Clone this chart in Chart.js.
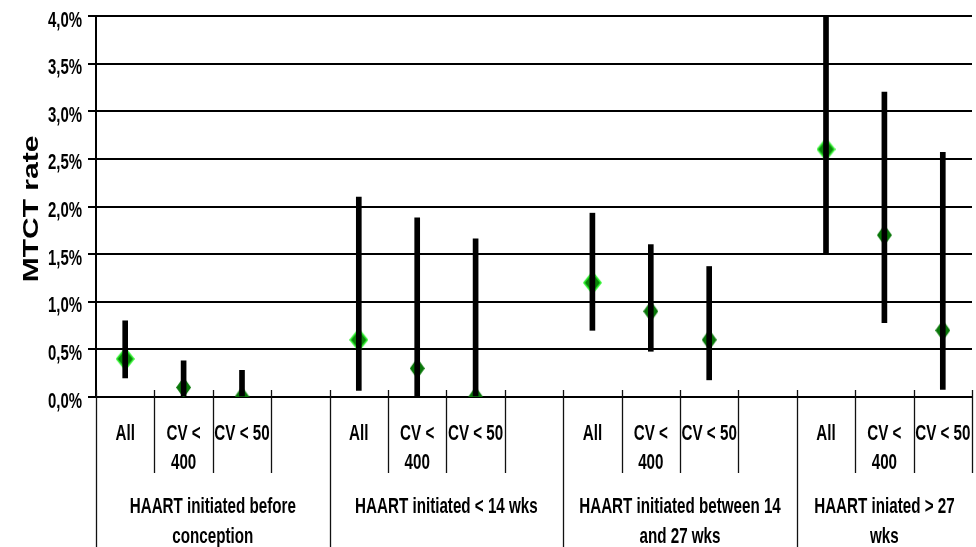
<!DOCTYPE html>
<html>
<head>
<meta charset="utf-8">
<script src="https://cdn.jsdelivr.net/npm/chart.js@4.4.1/dist/chart.umd.min.js"></script>
<style>
  html, body { margin: 0; padding: 0; background: #ffffff; }
  #c { display: block; }
</style>
</head>
<body>
<canvas id="c" width="976" height="547"></canvas>
<script>
// Treatment-start groups and their viral-load subgroups
const groupNames = [
  ['HAART initiated before', 'conception'],
  ['HAART initiated < 14 wks'],
  ['HAART initiated between 14', 'and 27 wks'],
  ['HAART iniated > 27', 'wks']
];
const subLabels = [['All'], ['CV <', '400'], ['CV < 50']];

// MTCT rate (%) with 95% CI, one slot per subgroup, null = spacer slot
const rate   = [0.4, 0.1, 0.0, null, 0.6, 0.3, 0.0, null, 1.2, 0.9, 0.6, null, 2.6, 1.7, 0.7];
const ciLow  = [0.2, 0.0, 0.0, null, 0.07, 0.0, 0.0, null, 0.7, 0.48, 0.18, null, 1.5, 0.78, 0.08];
const ciHigh = [0.8, 0.38, 0.28, null, 2.1, 1.88, 1.66, null, 1.93, 1.6, 1.37, null, 4.0, 3.2, 2.57];

// Y axis tick values (%)
const yTicks = [0, 0.5, 1.0, 1.5, 2.0, 2.5, 3.0, 3.5, 4.0];

const FONT = '"Liberation Sans", Arial, sans-serif';
const SQUEEZE = 0.69;   // condensed look for axis text

// Slot labels: three subgroups per group, blank spacer between groups
const slots = [];
const slotIsAll = [];
const groupStarts = [];
groupNames.forEach((g, gi) => {
  groupStarts.push(slots.length);
  subLabels.forEach((s, si) => { slots.push(s); slotIsAll.push(si === 0); });
  if (gi < groupNames.length - 1) { slots.push(''); slotIsAll.push(false); }
});

// Diamond markers
function diamond(w, h, fill, stroke, lw) {
  const cv = document.createElement('canvas');
  cv.width = w; cv.height = h;
  const g = cv.getContext('2d');
  const path = (inset) => {
    const k = inset * h / w;
    g.beginPath();
    g.moveTo(w / 2, k); g.lineTo(w - inset, h / 2); g.lineTo(w / 2, h - k); g.lineTo(inset, h / 2);
    g.closePath();
  };
  path(0); g.fillStyle = stroke; g.fill();
  if (lw) { path(lw); g.fillStyle = fill; g.fill(); }
  return cv;
}
const markAll = diamond(19, 24, '#0a840a', '#2ef02e', 2);
const markSub = diamond(15, 21, '#087608', '#087608', 0);

function squeezedText(ctx, text, x, y, align, sx) {
  ctx.save();
  ctx.translate(x, y);
  ctx.scale(sx, 1);
  ctx.textAlign = align;
  ctx.fillText(text, 0, 0);
  ctx.restore();
}

const axisText = {
  id: 'axisText',
  afterDraw(chart) {
    const { ctx, chartArea: area, scales: { x, y } } = chart;
    const w = x.getPixelForValue(1) - x.getPixelForValue(0);
    const start = x.getPixelForValue(0) - w / 2;
    const n = slots.length;
    ctx.save();

    // category separators
    ctx.strokeStyle = '#111';
    ctx.lineWidth = 1.3;
    for (let i = 0; i <= n; i++) {
      const bx = Math.round(start + i * w) + 0.5;
      const full = groupStarts.includes(i);
      ctx.beginPath();
      ctx.moveTo(bx, area.bottom - 7);
      ctx.lineTo(bx, full ? chart.height : area.bottom + 76);
      ctx.stroke();
    }

    ctx.fillStyle = '#000';
    ctx.textBaseline = 'alphabetic';
    ctx.font = 'bold 22px ' + FONT;

    // y tick labels
    y.ticks.forEach(t => {
      const py = y.getPixelForValue(t.value);
      squeezedText(ctx, t.value.toFixed(1).replace('.', ',') + '%', 82, py + 10.5, 'right', 0.68);
    });

    // subgroup labels
    slots.forEach((lines, i) => {
      if (!lines) return;
      const cx = x.getPixelForValue(i);
      lines.forEach((t, li) => squeezedText(ctx, t, cx, area.bottom + 43 + li * 28.5, 'center', SQUEEZE));
    });

    // group captions
    groupNames.forEach((lines, gi) => {
      const s = groupStarts[gi];
      const e = gi < groupNames.length - 1 ? groupStarts[gi + 1] : n;
      const cx = start + (s + e) / 2 * w;
      lines.forEach((t, li) => squeezedText(ctx, t, cx, area.bottom + 116 + li * 29.5, 'center', SQUEEZE));
    });

    // y axis title
    ctx.translate(38, (area.top + area.bottom) / 2 + 2.5);
    ctx.rotate(-Math.PI / 2);
    ctx.scale(1, 0.71);
    ctx.font = 'bold 30px ' + FONT;
    ctx.textAlign = 'center';
    ctx.fillText('MTCT rate', 0, 0);
    ctx.restore();
  }
};

new Chart(document.getElementById('c'), {
  data: {
    labels: slots,
    datasets: [
      {
        type: 'bar',
        label: '95% CI',
        data: ciLow.map((lo, i) => lo === null ? null : [lo, ciHigh[i]]),
        backgroundColor: '#000',
        barThickness: 5,
        order: 0
      },
      {
        type: 'line',
        label: 'MTCT rate',
        data: rate,
        showLine: false,
        pointStyle: slotIsAll.map(a => a ? markAll : markSub),
        pointRadius: 10,
        order: 1
      }
    ]
  },
  options: {
    responsive: false,
    animation: false,
    devicePixelRatio: 1,
    layout: { autoPadding: false, padding: { top: 16, right: 4, left: 0, bottom: 0 } },
    plugins: { legend: { display: false }, tooltip: { enabled: false } },
    scales: {
      x: {
        offset: true,
        grid: { display: false },
        border: { display: true, color: '#000', width: 2 },
        ticks: { display: false },
        afterFit(s) { s.height = 150; }
      },
      y: {
        min: 0, max: 4,
        afterBuildTicks(s) { s.ticks = yTicks.map(v => ({ value: v })); },
        grid: { color: '#000', lineWidth: 2, tickLength: 8, drawTicks: true },
        border: { display: true, color: '#000', width: 2 },
        ticks: { display: false },
        afterFit(s) { s.width = 96; }
      }
    }
  },
  plugins: [axisText]
});
</script>
</body>
</html>
